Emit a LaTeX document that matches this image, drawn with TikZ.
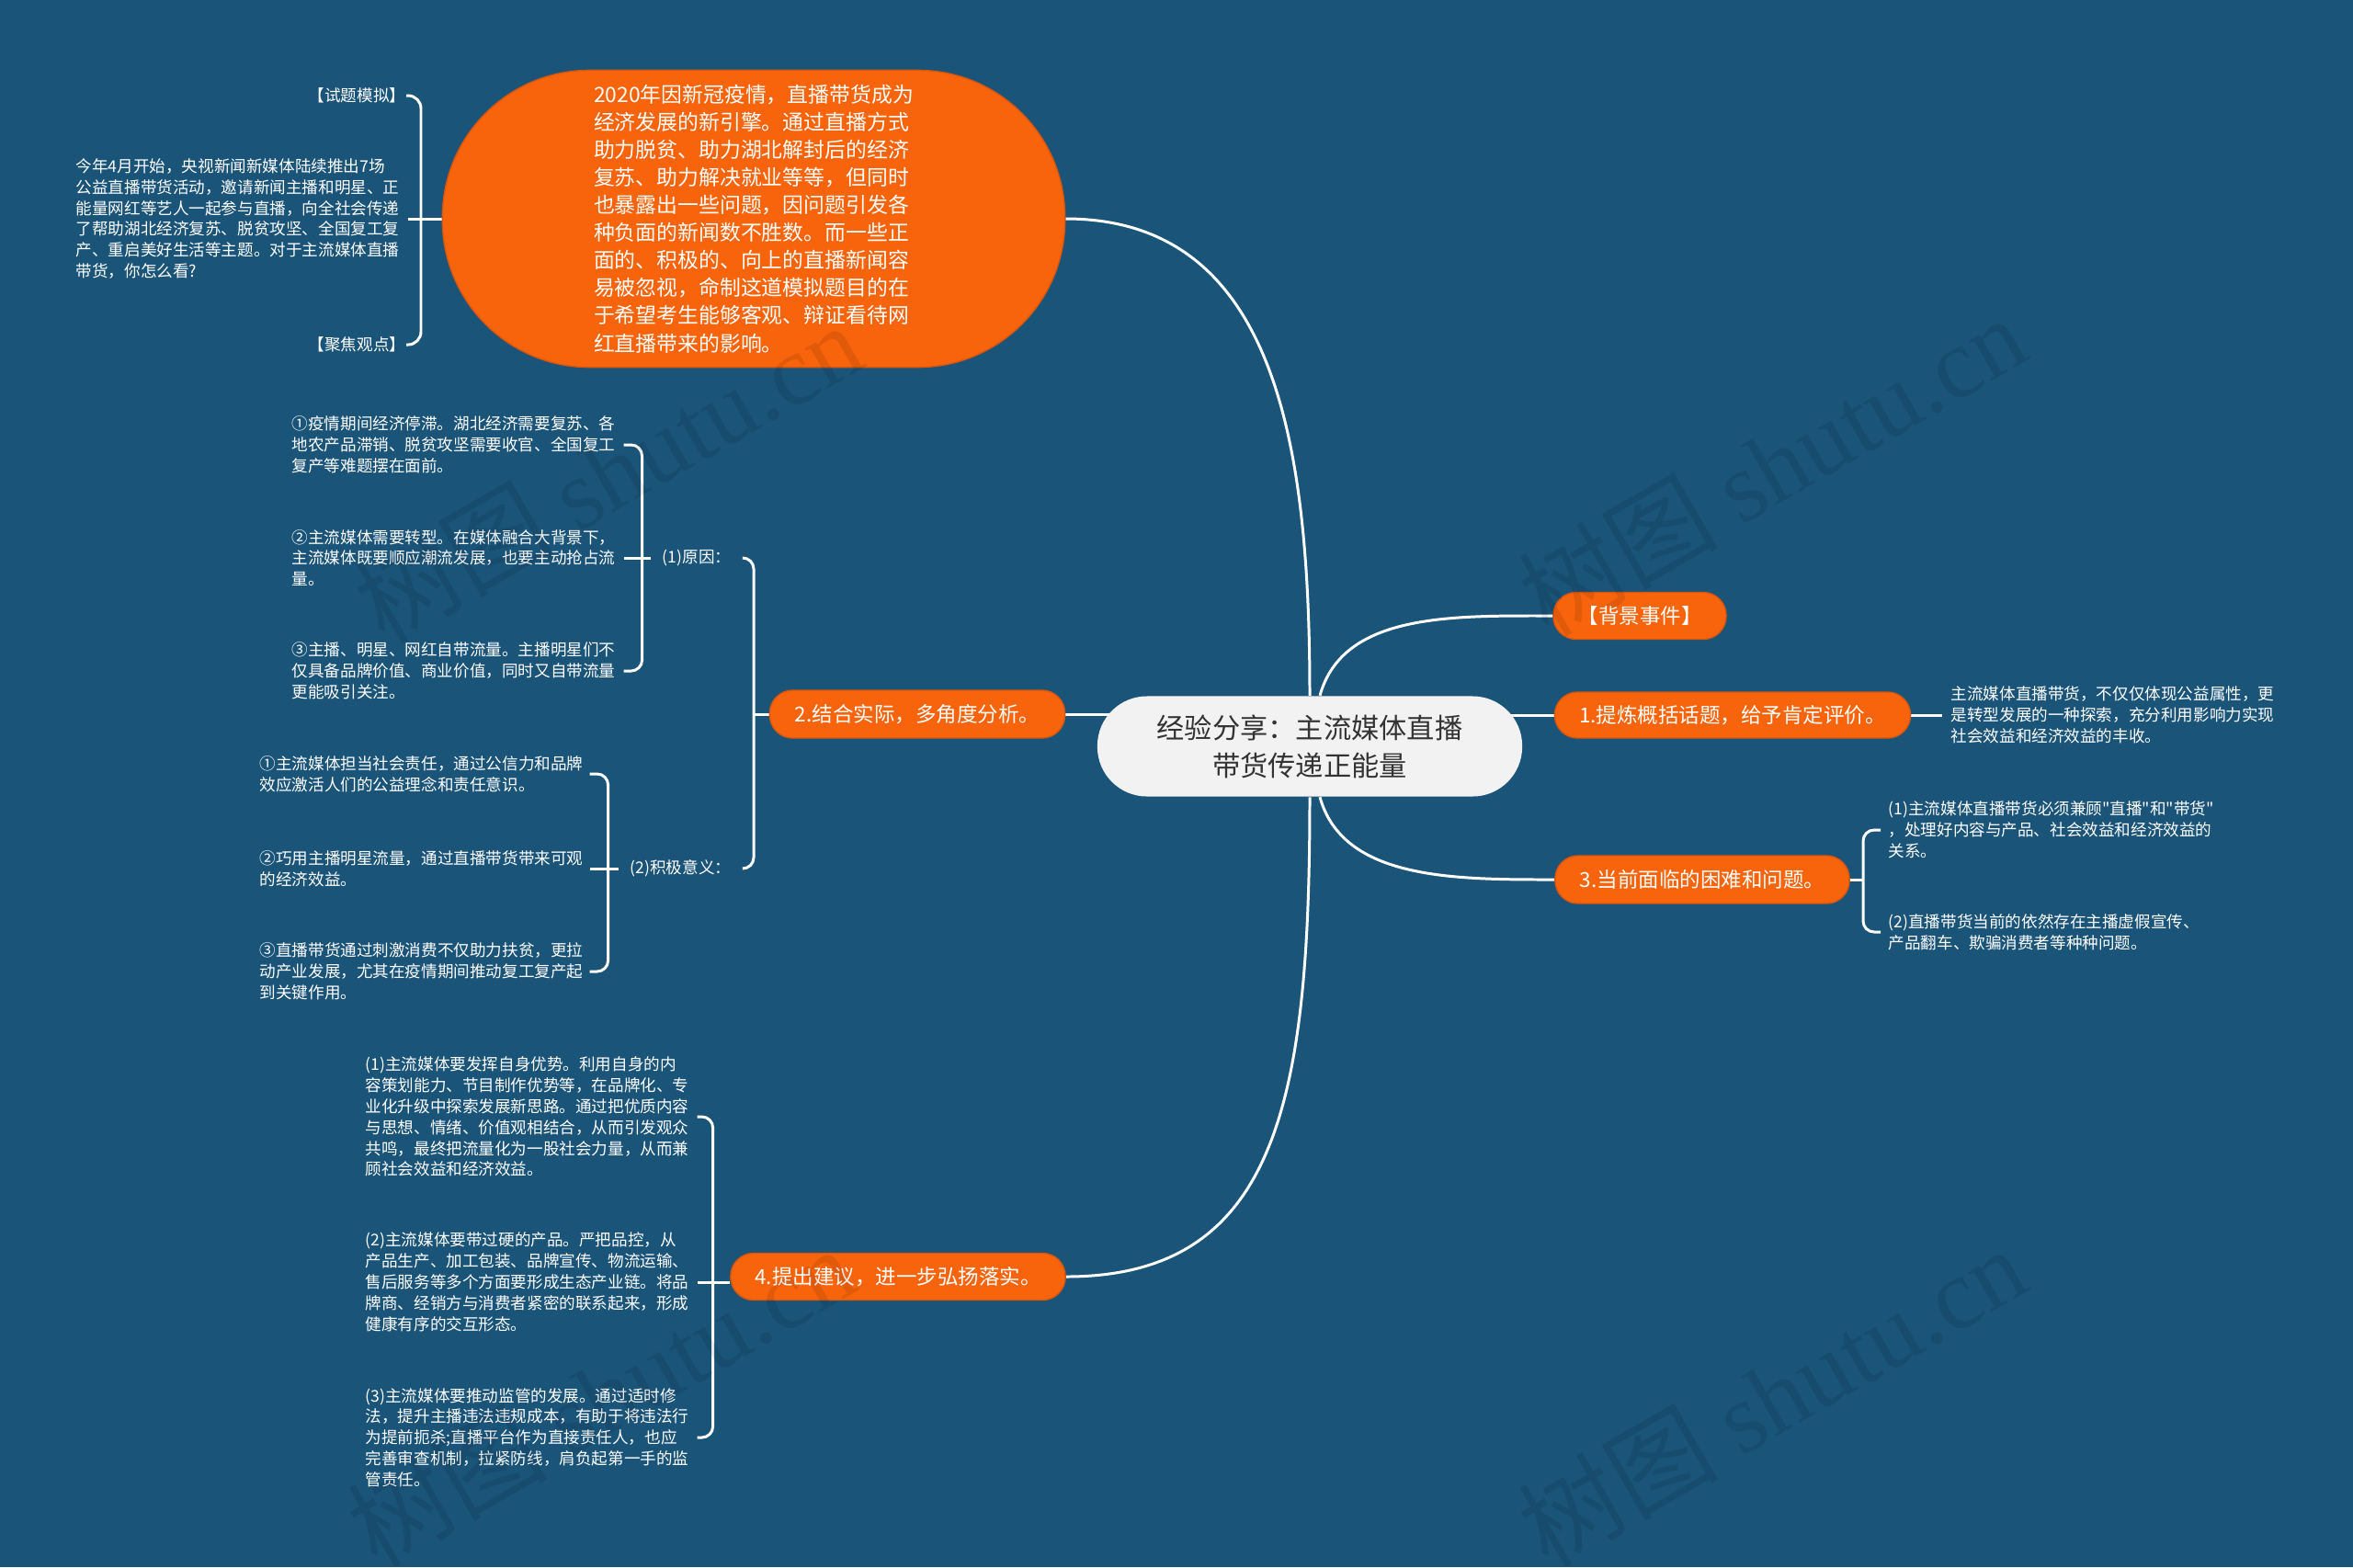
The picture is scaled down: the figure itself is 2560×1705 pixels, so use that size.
\documentclass[tikz,border=0pt]{standalone}
\usepackage{fontspec}
\setmainfont{Noto Sans CJK SC}[Ligatures=TeXOff]
\newfontfamily\wmfont{Liberation Serif}
\definecolor{bgc}{HTML}{1B5479}
\definecolor{orng}{HTML}{F8640B}
\definecolor{orngd}{HTML}{D9560B}
\definecolor{cgray}{HTML}{F2F2F2}
\definecolor{ctext}{HTML}{333333}
\pgfdeclarelayer{bgl}
\pgfdeclarelayer{lines}
\pgfsetlayers{bgl,lines,main}
\begin{document}
\begin{tikzpicture}[x=0.01cm,y=-0.01cm,
  conn/.style={draw=white,line width=0.85pt},
  bkt/.style={conn,rounded corners=0.12cm},
  obox/.style={fill=orng,draw=orngd,line width=0.4pt,text=white,rounded corners=0.25cm,inner sep=0pt,font=\fontsize{6.4}{8}\selectfont},
  leaf/.style={text=white,align=left,inner sep=0pt,font=\fontsize{5}{6.5}\selectfont},
  leafw/.style={leaf,text width=3.6cm},
  wm/.style={text=black,text opacity=0.09,font=\fontsize{31}{31}\selectfont,rotate=30}]
\useasboundingbox (0,0) rectangle (2560,1705);
\begin{pgfonlayer}{bgl}
\fill[bgc] (0,0) rectangle (2560,1705);
\end{pgfonlayer}

% central node
\node[fill=cgray,text=ctext,rounded corners=0.54cm,minimum width=4.62cm,minimum height=1.09cm,align=center,inner sep=0pt,font=\fontsize{8.6}{11.6}\selectfont] (c) at (1425,812) {经验分享：主流媒体直播\\带货传递正能量};

% top oval
\node[fill=orng,draw=orngd,line width=0.4pt,text=white,rounded corners=1.6cm,minimum width=6.77cm,minimum height=3.23cm,align=left,inner sep=0pt,font=\fontsize{6.5}{8.55}\selectfont] (top) at (820,238) {2020年因新冠疫情，直播带货成为\\经济发展的新引擎。通过直播方式\\助力脱贫、助力湖北解封后的经济\\复苏、助力解决就业等等，但同时\\也暴露出一些问题，因问题引发各\\种负面的新闻数不胜数。而一些正\\面的、积极的、向上的直播新闻容\\易被忽视，命制这道模拟题目的在\\于希望考生能够客观、辩证看待网\\红直播带来的影响。};

% branch nodes
\node[obox,minimum width=1.88cm,minimum height=0.51cm] (bg) at (1784,670) {【背景事件】};
\node[obox,minimum width=3.87cm,minimum height=0.50cm] (n1) at (1885,778) {1.提炼概括话题，给予肯定评价。};
\node[obox,minimum width=3.21cm,minimum height=0.52cm] (n2) at (998,777) {2.结合实际，多角度分析。};
\node[obox,minimum width=3.20cm,minimum height=0.52cm] (n3) at (1852,957) {3.当前面临的困难和问题。};
\node[obox,minimum width=3.64cm,minimum height=0.51cm] (n4) at (977,1389) {4.提出建议，进一步弘扬落实。};

% top-left group
\node[leaf,anchor=east] (tl1) at (442,104) {【试题模拟】};
\node[leafw,anchor=west] (tl2) at (82,238) {今年4月开始，央视新闻新媒体陆续推出7场\\公益直播带货活动，邀请新闻主播和明星、正\\能量网红等艺人一起参与直播，向全社会传递\\了帮助湖北经济复苏、脱贫攻坚、全国复工复\\产、重启美好生活等主题。对于主流媒体直播\\带货，你怎么看?};
\node[leaf,anchor=east] (tl3) at (442,375) {【聚焦观点】};

% group (1) reasons
\node[leafw,anchor=west] (r1) at (317,484) {①疫情期间经济停滞。湖北经济需要复苏、各\\地农产品滞销、脱贫攻坚需要收官、全国复工\\复产等难题摆在面前。};
\node[leafw,anchor=west] (r2) at (317,607) {②主流媒体需要转型。在媒体融合大背景下，\\主流媒体既要顺应潮流发展，也要主动抢占流\\量。};
\node[leafw,anchor=west] (r3) at (317,730) {③主播、明星、网红自带流量。主播明星们不\\仅具备品牌价值、商业价值，同时又自带流量\\更能吸引关注。};
\node[leaf,anchor=east,inner xsep=0.12cm] (l1) at (808,607) {(1)原因：};

% group (2) positive meaning
\node[leafw,anchor=west,text width=3.58cm] (m1) at (282,842) {①主流媒体担当社会责任，通过公信力和品牌\\效应激活人们的公益理念和责任意识。};
\node[leafw,anchor=west,text width=3.58cm] (m2) at (282,945) {②巧用主播明星流量，通过直播带货带来可观\\的经济效益。};
\node[leafw,anchor=west,text width=3.58cm] (m3) at (282,1057) {③直播带货通过刺激消费不仅助力扶贫，更拉\\动产业发展，尤其在疫情期间推动复工复产起\\到关键作用。};
\node[leaf,anchor=east,inner xsep=0.12cm] (l2) at (808,945) {(2)积极意义：};

% group 4
\node[leafw,anchor=west] (f1) at (397,1215) {(1)主流媒体要发挥自身优势。利用自身的内\\容策划能力、节目制作优势等，在品牌化、专\\业化升级中探索发展新思路。通过把优质内容\\与思想、情绪、价值观相结合，从而引发观众\\共鸣，最终把流量化为一股社会力量，从而兼\\顾社会效益和经济效益。};
\node[leafw,anchor=west] (f2) at (397,1395) {(2)主流媒体要带过硬的产品。严把品控，从\\产品生产、加工包装、品牌宣传、物流运输、\\售后服务等多个方面要形成生态产业链。将品\\牌商、经销方与消费者紧密的联系起来，形成\\健康有序的交互形态。};
\node[leafw,anchor=west] (f3) at (397,1564) {(3)主流媒体要推动监管的发展。通过适时修\\法，提升主播违法违规成本，有助于将违法行\\为提前扼杀;直播平台作为直接责任人，也应\\完善审查机制，拉紧防线，肩负起第一手的监\\管责任。};

% group 1 child
\node[leaf,anchor=west,inner xsep=0.09cm] (k1) at (2113,778) {主流媒体直播带货，不仅仅体现公益属性，更\\是转型发展的一种探索，充分利用影响力实现\\社会效益和经济效益的丰收。};

% group 3 children
\node[leaf,anchor=west,inner xsep=0.08cm] (t1) at (2046,903) {(1)主流媒体直播带货必须兼顾"直播"和"带货"\\，处理好内容与产品、社会效益和经济效益的\\关系。};
\node[leaf,anchor=west,inner xsep=0.08cm] (t2) at (2046,1014) {(2)直播带货当前的依然存在主播虚假宣传、\\产品翻车、欺骗消费者等种种问题。};

\coordinate (b2) at (820,777);
\coordinate (b3) at (2027,957);

\begin{pgfonlayer}{lines}
% main connectors
\draw[conn] (top.east) .. controls +(230,0) and +(0,-270) .. (c.north);
\draw[conn] (c.north) ++(11,0) .. controls +(25,-90) and +(-110,0) .. (bg.west);
\draw[conn] (n1.west) -- (n1.west -| c.center);
\draw[conn] (n2.east) -- (n2.east -| c.center);
\draw[conn] (c.south) ++(11,0) .. controls +(25,90) and +(-110,0) .. (n3.west);
\draw[conn] (c.south) .. controls +(0,330) and +(230,0) .. (n4.east);
% top-left bracket
\draw[conn,rounded corners=0.14cm] (tl1.east) -- ++(16,0) |- (tl3.east);
\draw[conn] (tl2.east) -- (top.west);
% group 2 brackets
\draw[bkt] (r1.east) -- ++(20,0) |- (r3.east);
\draw[conn] (r2.east) -- (l1.west);
\draw[bkt] (m1.east) -- ++(20,0) |- (m3.east);
\draw[conn] (m2.east) -- (l2.west);
\draw[bkt] (l1.east) -- ++(12,0) |- (l2.east);
\draw[conn] (n2.west) -- (b2);
% group 4 bracket
\draw[bkt] (f1.east) -- ++(17,0) |- (f3.east);
\draw[conn] (f2.east) -- (f2.east -| n4.west);
% group 1
\draw[conn] (n1.east) -- (k1.west);
% group 3 bracket
\draw[bkt] (t1.west) -- ++(-19,0) |- (t2.west);
\draw[conn] (n3.east) -- (b3);
\end{pgfonlayer}

% watermarks
\node[wm] (w1) at (661,514) {树图 {\wmfont shutu.cn}};
\node[wm] (w2) at (1927,506) {树图 {\wmfont shutu.cn}};
\node[wm] (w3) at (653,1519) {树图 {\wmfont shutu.cn}};
\node[wm] (w4) at (1927,1519) {树图 {\wmfont shutu.cn}};
\end{tikzpicture}
\end{document}
